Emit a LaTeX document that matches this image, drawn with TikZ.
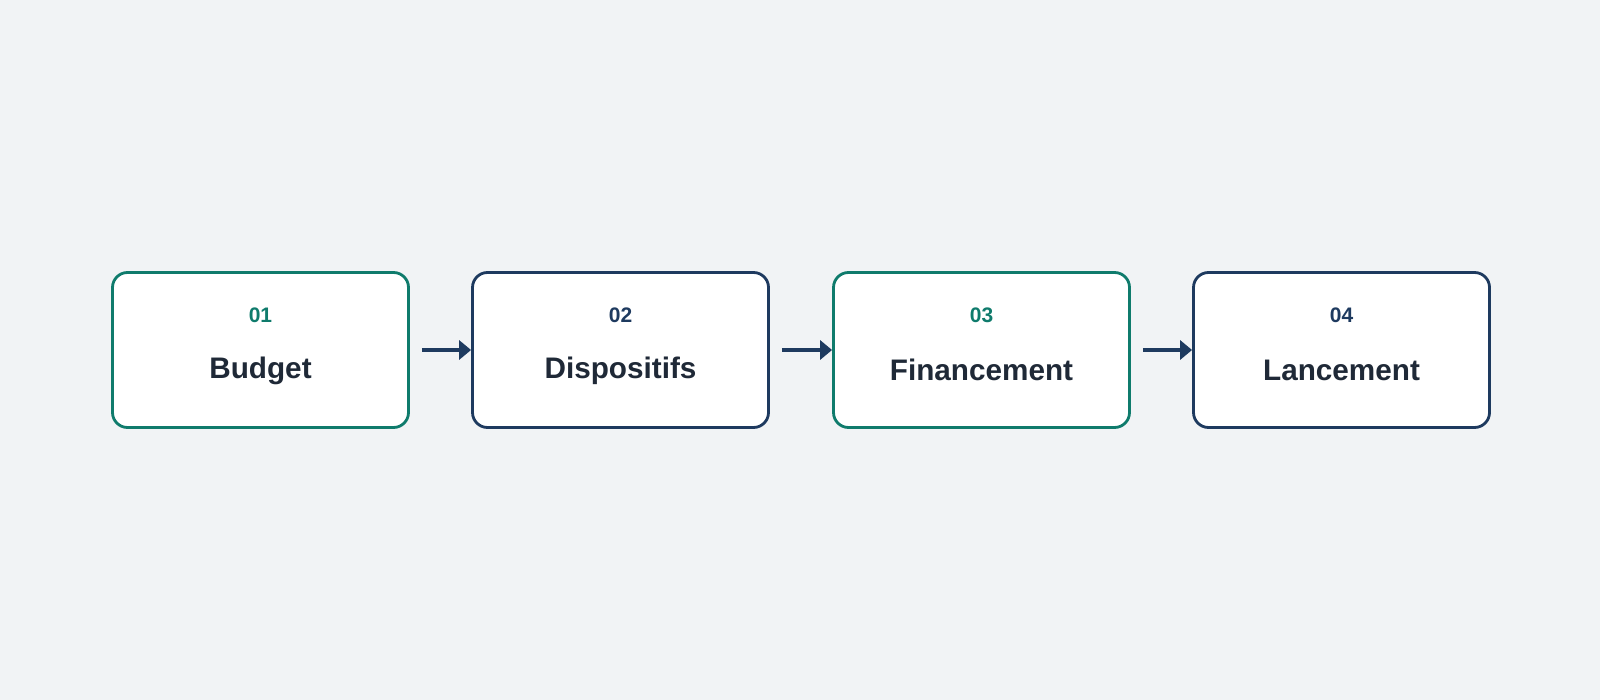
\documentclass[tikz,border=0pt]{standalone}
\usepackage{fontspec}
\setmainfont{Liberation Sans}
\usetikzlibrary{arrows.meta}
\definecolor{bgc}{HTML}{F1F3F5}
\definecolor{mygreen}{HTML}{0F7B6C}
\definecolor{mynavy}{HTML}{1E3A5F}
\definecolor{ink}{HTML}{1F2937}
\tikzset{
  stepbox/.style={draw, fill=white, rectangle, rounded corners=15pt, line width=2.8pt,
    minimum width=296pt, minimum height=155pt, inner sep=0pt},
  numlabel/.style={font=\fontsize{21}{24}\selectfont\bfseries, anchor=base, inner sep=0pt},
  titlelabel/.style={font=\fontsize{29.7}{34}\selectfont\bfseries, text=ink, anchor=base, inner sep=0pt},
  conn/.style={draw=mynavy, line width=3.8pt, -{Triangle[length=12pt,width=19pt]}}
}
\begin{document}
\begin{tikzpicture}[x=1pt,y=-1pt]
\useasboundingbox (0,0) rectangle (1600,700);
\fill[bgc] (0,0) rectangle (1600,700);
\node[stepbox, draw=mygreen] (b1) at (260.5,350) {};
\node[stepbox, draw=mynavy] (b2) at (620.5,350) {};
\node[stepbox, draw=mygreen] (b3) at (981.5,350) {};
\node[stepbox, draw=mynavy] (b4) at (1341.5,350) {};
\node[numlabel, text=mygreen] (n1) at (260.5,323) {01};
\node[numlabel, text=mynavy] (n2) at (620.5,323) {02};
\node[numlabel, text=mygreen] (n3) at (981.5,323) {03};
\node[numlabel, text=mynavy] (n4) at (1341.5,323) {04};
\node[titlelabel] (t1) at (260.5,378.5) {Budget};
\node[titlelabel] (t2) at (620.5,378.5) {Dispositifs};
\node[titlelabel] (t3) at (981.5,381) {Financement};
\node[titlelabel] (t4) at (1341.5,381) {Lancement};
\draw[conn] ([xshift=12pt]b1.east) -- (b2.west);
\draw[conn] ([xshift=12pt]b2.east) -- (b3.west);
\draw[conn] ([xshift=12pt]b3.east) -- (b4.west);
\end{tikzpicture}
\end{document}
